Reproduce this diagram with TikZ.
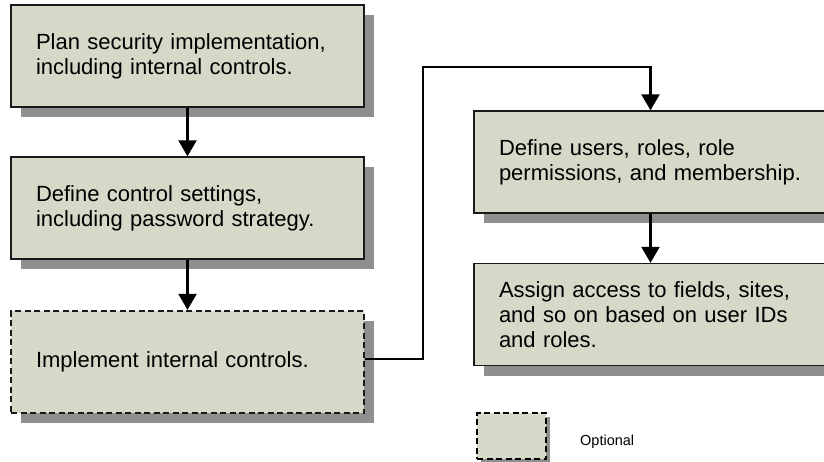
\documentclass[tikz,border=0pt]{standalone}
\usepackage{fontspec}
\setmainfont{Liberation Sans}
\usetikzlibrary{arrows.meta,shadows}
\definecolor{boxfill}{HTML}{D7D9C8}
\definecolor{shadowgray}{HTML}{8F8F8F}
\definecolor{edge}{HTML}{1A1A1A}
\tikzset{
  stepbox/.style={draw=edge, line width=1.3pt, fill=boxfill,
    minimum width=353pt, minimum height=102pt, text width=303pt,
    inner xsep=25pt, inner ysep=0pt, align=left,
    font=\fontsize{22}{25}\selectfont,
    drop shadow={shadow xshift=10pt, shadow yshift=-10pt, fill=shadowgray, opacity=1}},
  optbox/.style={stepbox, dashed, dash pattern=on 6pt off 3.5pt, line width=2.3pt},
  flow/.style={draw=black, line width=2.2pt, -{Triangle[width=18pt,length=16pt]}},
}
\begin{document}
\begin{tikzpicture}[x=1pt,y=-1pt]
\useasboundingbox (0,0) rectangle (824,461);
\clip (0,0) rectangle (824,461);
\node[stepbox] (plan) at (187.5,56) {Plan security implementation,\\including internal controls.};
\node[stepbox] (ctrl) at (187.5,208) {Define control settings,\\including password strategy.};
\node[optbox] (impl) at (187.5,362) {Implement internal controls.};
\node[stepbox] (users) at (650.5,162) {Define users, roles, role\\permissions, and membership.};
\node[stepbox] (assign) at (650.5,314.5) {Assign access to fields, sites,\\and so on based on user IDs\\and roles.};
\coordinate (c1) at (423,359);
\coordinate (c2) at (423,67);
\coordinate (c3) at (650.5,67);
\draw[flow] (plan.south) -- (ctrl.north);
\draw[flow] (ctrl.south) -- (impl.north);
\draw[flow] (users.south) -- (assign.north);
\draw[flow] (impl.east |- c1) -- (c1) -- (c2) -- (c3) -- (users.north);
\node[draw=black, fill=boxfill, dashed, dash pattern=on 6pt off 3.5pt, line width=2.3pt,
  minimum width=69pt, minimum height=46pt, inner sep=0pt,
  drop shadow={shadow xshift=4pt, shadow yshift=-4pt, fill=shadowgray, opacity=1}] (legend) at (511.5,436) {};
\node[anchor=base west, inner sep=0pt, font=\fontsize{14.5}{17}\selectfont] (legtext) at (580,445) {Optional};
\end{tikzpicture}
\end{document}
